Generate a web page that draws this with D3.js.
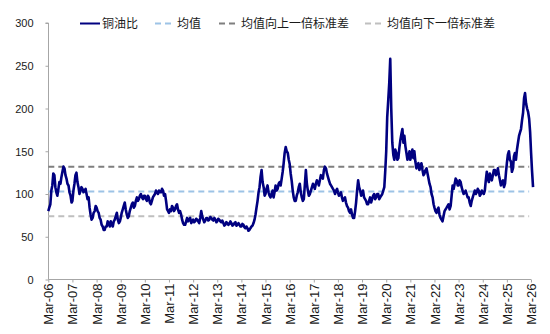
<!DOCTYPE html>
<html>
<head>
<meta charset="utf-8">
<script src="https://cdn.jsdelivr.net/npm/d3@7"></script>
<style>
  html, body { margin: 0; padding: 0; background: #fff; }
  svg { display: block; }
  text { font-family: "Liberation Sans", Arial, sans-serif; }
  .cjk { font-family: "Noto Sans CJK SC", "Liberation Sans", sans-serif; }
</style>
</head>
<body>
<svg id="chart" width="550" height="334"></svg>
<script>
// ---- data ----
const startMonth = "2006-03";
// value at the start of each month
const copperOilRatio = [
  80,88,110,122,102,106,112,126,130,118,
  110,98,92,112,125,108,104,106,104,100,96,76,
  72,80,84,78,70,62,58,62,66,68,62,70,
  78,66,72,82,90,76,74,84,90,86,96,94,
  100,94,98,92,96,88,96,100,102,104,102,
  104,100,82,78,80,84,82,88,78,76,66,64,
  72,70,66,70,68,70,66,80,70,69,72,70,
  72,69,70,68,70,67,66,64,66,65,66,64,
  67,64,64,62,64,60,60,58,62,66,76,92,
  108,128,108,100,110,98,100,96,110,106,114,118,
  136,155,148,135,115,96,92,102,112,96,94,128,
  104,100,108,110,112,114,116,120,128,130,120,112,
  108,104,104,102,100,96,94,90,84,78,76,72,
  90,116,104,100,96,92,88,96,94,100,96,100,
  96,100,108,150,210,258,160,140,148,142,163,176,
  168,148,144,140,152,150,130,136,132,128,124,
  130,118,108,96,84,78,84,72,68,80,84,88,
  86,110,112,116,110,114,104,102,100,96,86,96,
  104,102,104,100,102,104,126,114,120,122,128,124,
  122,110,116,112,136,150,138,130,148,152,168,176,
  195,218,200,188,150,108
];
// value in the middle of each month
const copperOilRatioMid = [
  84,104,124,108,98,114,120,132,122,112,
  102,90,104,122,114,100,108,102,106,94,84,70,
  78,86,80,72,64,58,62,68,62,64,68,74,
  70,68,78,86,82,72,80,88,84,92,92,98,
  96,98,94,98,90,92,98,104,100,102,106,
  98,92,80,82,86,80,86,82,80,70,64,68,
  68,72,68,67,71,68,72,74,67,72,69,73,
  70,72,67,71,68,69,63,67,64,68,63,66,
  63,66,62,65,61,62,57,60,63,70,84,102,
  120,114,98,106,102,96,104,102,104,112,110,126,
  148,150,140,124,104,92,98,108,102,92,110,112,
  98,104,112,106,116,110,122,118,132,124,116,110,
  106,100,106,98,102,92,96,86,80,82,72,80,
  104,108,98,104,94,88,92,90,98,94,100,94,
  98,104,128,190,230,200,146,152,140,154,170,160,
  156,140,150,146,142,138,134,128,136,122,128,
  124,112,100,88,80,82,76,70,74,82,86,82,
  98,106,118,110,116,108,100,104,96,90,92,100,
  100,106,98,104,100,116,118,124,116,128,122,130,
  116,114,108,126,146,140,126,144,140,160,172,186,
  212,206,196,172,128
];
const meanValue = 103;
const upperValue = 132;
const lowerValue = 74;
const yTicks = [0, 50, 100, 150, 200, 250, 300];
const xTickLabels = ["Mar-06","Mar-07","Mar-08","Mar-09","Mar-10","Mar-11","Mar-12","Mar-13","Mar-14","Mar-15","Mar-16","Mar-17","Mar-18","Mar-19","Mar-20","Mar-21","Mar-22","Mar-23","Mar-24","Mar-25","Mar-26"];
const legendLabels = ["铜油比", "均值", "均值向上一倍标准差", "均值向下一倍标准差"];

// ---- build ----
const parseMonth = d3.timeParse("%Y-%m");
const parseTick = d3.timeParse("%b-%y");
const start = parseMonth(startMonth);
const series = [];
copperOilRatio.forEach((v, i) => {
  const d0 = d3.timeMonth.offset(start, i);
  series.push({ date: d0, value: v });
  if (i < copperOilRatioMid.length) {
    series.push({ date: d3.timeDay.offset(d0, 15), value: copperOilRatioMid[i] });
  }
});
const tickDates = xTickLabels.map(parseTick);

const svg = d3.select("#chart");
const x = d3.scaleTime().domain([tickDates[0], tickDates[tickDates.length - 1]]).range([48.3, 531]);
const y = d3.scaleLinear().domain([0, 300]).range([279.5, 23]);

const axisColor = "#a6a6a6";
const textColor = "#1a1a1a";

// y axis
const yAxis = svg.append("g").attr("transform", "translate(48.5,0)")
  .call(d3.axisLeft(y).tickValues(yTicks).tickSize(3).tickPadding(12).tickFormat(d3.format("d")));
yAxis.select(".domain").attr("stroke", axisColor).attr("d", `M-3,${y(300)}H0V${y(0)}`);
yAxis.selectAll(".tick line").attr("stroke", axisColor);
yAxis.selectAll(".tick text").attr("fill", textColor).style("font-size", "11px").attr("dy", "0.35em");

// x axis
const xAxis = svg.append("g").attr("transform", `translate(0,${y(0)})`)
  .call(d3.axisBottom(x).tickValues(tickDates).tickSize(3).tickFormat((d, i) => xTickLabels[i]));
xAxis.select(".domain").attr("stroke", axisColor).attr("d", `M${x(tickDates[0])},0H${x(tickDates[tickDates.length-1])}`);
xAxis.selectAll(".tick line").attr("stroke", axisColor);
xAxis.selectAll(".tick text")
  .attr("fill", textColor)
  .style("font-size", "13px")
  .attr("transform", "rotate(-90)")
  .attr("text-anchor", "end")
  .attr("x", -4)
  .attr("y", 0)
  .attr("dy", "0.35em");

// reference lines
const refEnd = d3.timeMonth.offset(start, copperOilRatio.length - 3);
const refs = [
  { v: upperValue, color: "#7f7f7f" },
  { v: meanValue, color: "#9dc3e6" },
  { v: lowerValue, color: "#bfbfbf" }
];
svg.append("g").selectAll("line").data(refs).join("line")
  .attr("x1", x(series[0].date)).attr("x2", x(refEnd))
  .attr("y1", d => y(d.v)).attr("y2", d => y(d.v))
  .attr("stroke", d => d.color)
  .attr("stroke-width", 2)
  .attr("stroke-dasharray", "6,4");

// main line
const line = d3.line().x(d => x(d.date)).y(d => y(d.value));
svg.append("path").datum(series)
  .attr("fill", "none")
  .attr("stroke", "#000080")
  .attr("stroke-width", 2.6)
  .attr("stroke-linejoin", "round")
  .attr("d", line);

// legend
const legendItems = [
  { label: legendLabels[0], color: "#000080", dash: null, x1: 80, x2: 100, tx: 102 },
  { label: legendLabels[1], color: "#9dc3e6", dash: "6,4", x1: 155, x2: 175, tx: 177 },
  { label: legendLabels[2], color: "#7f7f7f", dash: "6,4", x1: 219, x2: 239, tx: 241 },
  { label: legendLabels[3], color: "#bfbfbf", dash: "6,4", x1: 365, x2: 385, tx: 387 }
];
const lg = svg.append("g");
legendItems.forEach(it => {
  lg.append("line").attr("x1", it.x1).attr("x2", it.x2).attr("y1", 23.5).attr("y2", 23.5)
    .attr("stroke", it.color).attr("stroke-width", 2).attr("stroke-dasharray", it.dash);
  lg.append("text").attr("class", "cjk").attr("x", it.tx).attr("y", 23.5).attr("dy", "0.35em")
    .attr("fill", textColor).style("font-size", "12px").text(it.label);
});
</script>
</body>
</html>
